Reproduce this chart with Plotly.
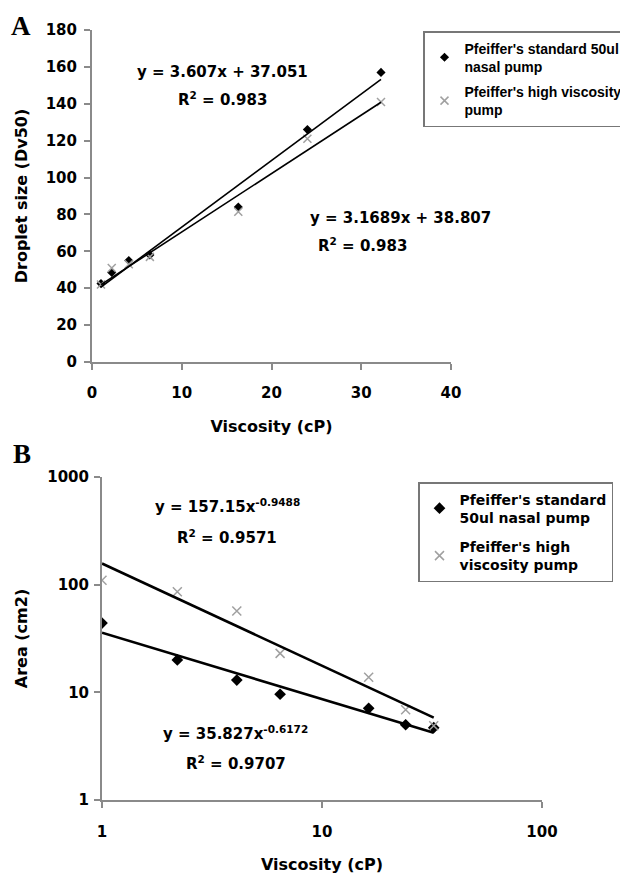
import numpy as np
import plotly.graph_objects as go

# ---------------- data ----------------
visc = [1, 2.2, 4.1, 6.45, 16.3, 24, 32.2]
dv50_standard = [42.5, 48.5, 55, 58, 84, 126, 157]
dv50_high = [42, 51, 53, 57, 81.5, 121, 141]
area_standard = [44, 20, 13, 9.6, 7.1, 5.0, 4.7]
area_high = [110, 86, 57, 23, 13.8, 6.9, 4.9]

lin_std = (3.607, 37.051)     # slope, intercept
lin_high = (3.1689, 38.807)
pow_high = (157.15, -0.9488)  # coefficient, exponent
pow_std = (35.827, -0.6172)

name_std_a = "Pfeiffer's standard 50ul<br>nasal pump"
name_high_a = "Pfeiffer's high viscosity<br>pump"
name_std_b = "Pfeiffer's standard<br>50ul nasal pump"
name_high_b = "Pfeiffer's high<br>viscosity pump"

xticks_a = [0, 10, 20, 30, 40]
yticks_a = [0, 20, 40, 60, 80, 100, 120, 140, 160, 180]
xticks_b = [1, 10, 100]
yticks_b = [1, 10, 100, 1000]

# ---------------- helpers ----------------
W, H = 620, 874
def px(x):
    return x / W
def py(y):
    return 1 - y / H

FONT = "DejaVu Sans"
AX = "#8a8a8a"
fx = np.array([min(visc), max(visc)])

fig = go.Figure()

# Panel A
fig.add_trace(go.Scatter(x=visc, y=dv50_standard, mode="markers", name=name_std_a,
                         marker=dict(symbol="diamond", size=7, color="black"),
                         xaxis="x", yaxis="y", legend="legend", legendgroup="a1"))
fig.add_trace(go.Scatter(x=visc, y=dv50_high, mode="markers", name=name_high_a,
                         marker=dict(symbol="x-thin", size=8, line=dict(color="#a0a0a0", width=1.5)),
                         xaxis="x", yaxis="y", legend="legend", legendgroup="a2"))
fig.add_trace(go.Scatter(x=fx, y=lin_std[0] * fx + lin_std[1], mode="lines", showlegend=False,
                         line=dict(color="black", width=1.6), xaxis="x", yaxis="y"))
fig.add_trace(go.Scatter(x=fx, y=lin_high[0] * fx + lin_high[1], mode="lines", showlegend=False,
                         line=dict(color="black", width=1.6), xaxis="x", yaxis="y"))

# Panel B
fig.add_trace(go.Scatter(x=visc, y=area_standard, mode="markers", name=name_std_b,
                         marker=dict(symbol="diamond", size=9, color="black"),
                         xaxis="x2", yaxis="y2", legend="legend2", legendgroup="b1"))
fig.add_trace(go.Scatter(x=visc, y=area_high, mode="markers", name=name_high_b,
                         marker=dict(symbol="x-thin", size=9, line=dict(color="#a0a0a0", width=1.5)),
                         xaxis="x2", yaxis="y2", legend="legend2", legendgroup="b2"))
fig.add_trace(go.Scatter(x=fx, y=pow_high[0] * fx ** pow_high[1], mode="lines", showlegend=False,
                         line=dict(color="black", width=2.6), xaxis="x2", yaxis="y2"))
fig.add_trace(go.Scatter(x=fx, y=pow_std[0] * fx ** pow_std[1], mode="lines", showlegend=False,
                         line=dict(color="black", width=2.6), xaxis="x2", yaxis="y2"))

tickfont = dict(family=FONT, size=15, color="black", weight="bold")
titlefont = dict(family=FONT, size=16, color="black", weight="bold")
axcommon = dict(showgrid=False, zeroline=False, showline=True, linecolor=AX, linewidth=2,
                ticks="outside", tickcolor=AX, ticklen=6, tickwidth=1.5,
                tickfont=tickfont, title_font=titlefont)

fig.update_layout(
    width=W, height=H,
    margin=dict(l=0, r=0, t=0, b=0, autoexpand=False),
    paper_bgcolor="white", plot_bgcolor="white",
    xaxis=dict(domain=[px(92), px(451)], range=[0, 40], tickvals=xticks_a, ticklabelstandoff=10,
               title=dict(text="Viscosity (cP)", standoff=20), anchor="y", **axcommon),
    yaxis=dict(domain=[py(362), py(30)], range=[0, 180], tickvals=yticks_a, ticklabelstandoff=4,
               title=dict(text="Droplet size (Dv50)", standoff=14), anchor="x", **axcommon),
    xaxis2=dict(domain=[px(102), px(542)], type="log", range=[0, 2], tickvals=xticks_b,
                ticklabelstandoff=11,
                title=dict(text="Viscosity (cP)", standoff=19), anchor="y2", **axcommon),
    yaxis2=dict(domain=[py(800), py(477)], type="log", range=[0, 3], tickvals=yticks_b,
                ticklabelstandoff=2,
                title=dict(text="Area (cm2)", standoff=16), anchor="x2", **axcommon),
    legend=dict(x=px(423), y=py(31), xanchor="left", yanchor="top",
                bordercolor="#777777", borderwidth=1.5, bgcolor="white",
                font=dict(family="Liberation Sans", size=14, color="black", weight="bold"),
                itemwidth=30, traceorder="grouped", tracegroupgap=4),
    legend2=dict(x=px(418), y=py(482), xanchor="left", yanchor="top",
                 bordercolor="#777777", borderwidth=1.5, bgcolor="white",
                 font=dict(family=FONT, size=14, color="black", weight="bold"),
                 itemwidth=30, traceorder="grouped", tracegroupgap=8),
    showlegend=True,
)

eqfont = dict(family=FONT, size=15, color="black", weight="bold")
ann = [
    dict(text="A", x=px(9), y=py(9), xanchor="left", yanchor="top",
         font=dict(family="Liberation Serif", size=27, color="black", weight="bold")),
    dict(text="B", x=px(11), y=py(437), xanchor="left", yanchor="top",
         font=dict(family="Liberation Serif", size=27, color="black", weight="bold")),
    dict(text="y = 3.607x + 37.051", x=px(222), y=py(72), font=eqfont),
    dict(text="R<sup>2</sup> = 0.983", x=px(222), y=py(99), font=eqfont),
    dict(text="y = 3.1689x + 38.807", x=px(400), y=py(218), font=eqfont),
    dict(text="R<sup>2</sup> = 0.983", x=px(362), y=py(245), font=eqfont),
    dict(text="y = 157.15x<sup>-0.9488</sup>", x=px(227), y=py(506), font=eqfont),
    dict(text="R<sup>2</sup> = 0.9571", x=px(227), y=py(537), font=eqfont),
    dict(text="y = 35.827x<sup>-0.6172</sup>", x=px(236), y=py(733), font=eqfont),
    dict(text="R<sup>2</sup> = 0.9707", x=px(236), y=py(763), font=eqfont),
]
for a in ann:
    a.setdefault("xanchor", "center")
    a.setdefault("yanchor", "middle")
    a.update(xref="paper", yref="paper", showarrow=False)
fig.update_layout(annotations=ann)

fig.write_html("out.html", config={"displayModeBar": False},
               post_script="document.body.style.margin='0px';")
